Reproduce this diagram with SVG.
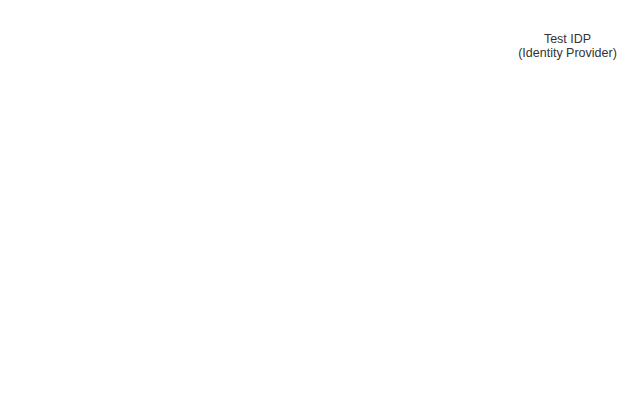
<svg xmlns="http://www.w3.org/2000/svg" width="635" height="411" viewBox="0 0 635 411">
<style>
.lbl{font-family:"Liberation Sans",Arial,sans-serif;font-size:12.5px;fill:#333333;text-anchor:middle}
</style>
<rect width="635" height="411" fill="#ffffff"/>
<g id="test-idp">
<text class="lbl" x="567.5" y="43">Test IDP</text>
<text class="lbl" x="567.5" y="56.5">(Identity Provider)</text>
</g>
<g id="connectors"></g>
</svg>
